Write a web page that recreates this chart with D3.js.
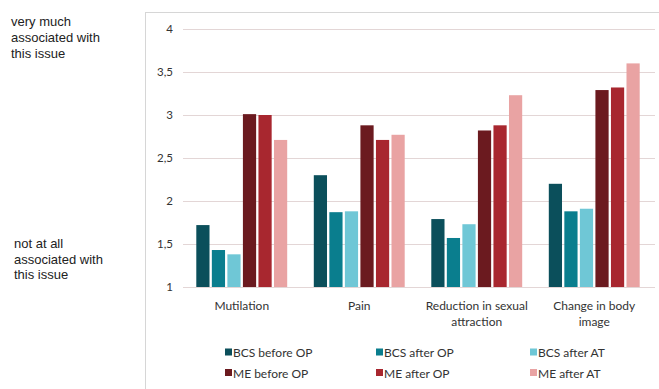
<!DOCTYPE html>
<html><head><meta charset="utf-8">
<script src="https://cdn.jsdelivr.net/npm/d3@7"></script>
<style>body{margin:0;background:#fff}svg{display:block}</style>
</head><body>
<script>
const categories = [["Mutilation"], ["Pain"], ["Reduction in sexual", "attraction"], ["Change in body", "image"]];
const seriesNames = ["BCS before OP", "BCS after OP", "BCS after AT", "ME before OP", "ME after OP", "ME after AT"];
const bcsBeforeOP = [1.72, 2.30, 1.79, 2.20];
const bcsAfterOP  = [1.43, 1.87, 1.57, 1.88];
const bcsAfterAT  = [1.38, 1.88, 1.73, 1.91];
const meBeforeOP  = [3.01, 2.88, 2.82, 3.29];
const meAfterOP   = [3.00, 2.71, 2.88, 3.32];
const meAfterAT   = [2.71, 2.77, 3.23, 3.60];
const yTicks = [1, 1.5, 2, 2.5, 3, 3.5, 4];
const colors = ["#0b4f5b", "#0a7e8e", "#6fc7d6", "#6b1a1f", "#a8272f", "#e9a3a3"];
const seriesValues = [bcsBeforeOP, bcsAfterOP, bcsAfterAT, meBeforeOP, meAfterOP, meAfterAT];

const W = 659, H = 389;
const svg = d3.select("body").append("svg").attr("width", W).attr("height", H);

// frame
svg.append("rect").attr("x", 145.5).attr("y", 12.5).attr("width", 530).attr("height", 400)
  .attr("fill", "none").attr("stroke", "#d6d6d6");

// left annotations
const ann = svg.append("g").attr("font-family", "Liberation Sans, Arial, sans-serif").attr("font-size", 13).attr("fill", "#222");
["very much", "associated with", "this issue"].forEach((t, i) =>
  ann.append("text").attr("x", 11).attr("y", 26 + i * 15.8).text(t));
["not at all", "associated with", "this issue"].forEach((t, i) =>
  ann.append("text").attr("x", 14).attr("y", 248 + i * 15.5).text(t));

const y = d3.scaleLinear().domain([1, 4]).range([287, 29]);
const x0 = d3.scaleBand().domain(d3.range(categories.length)).range([183, 653]).padding(0);
const x1 = d3.scaleBand().domain(d3.range(seriesNames.length)).range([13.3, x0.bandwidth() - 13.3]).paddingInner(0.15).paddingOuter(0);

const font = "Lato, 'Open Sans', sans-serif";

// grid
const yAxis = d3.axisLeft(y).tickValues(yTicks).tickSize(-(655 - 183)).tickPadding(10)
  .tickFormat(d => String(d).replace(".", ","));
const gy = svg.append("g").attr("transform", "translate(183,0)").call(yAxis);
gy.select(".domain").remove();
gy.selectAll(".tick line").attr("stroke", "#e3d6d6").attr("stroke-width", 1);
gy.selectAll(".tick text").attr("font-family", font).attr("font-size", 11.5).attr("fill", "#333");

// bars
const groups = svg.append("g").selectAll("g").data(categories).join("g")
  .attr("transform", (d, i) => `translate(${x0(i)},0)`);
groups.selectAll("rect").data((d, i) => seriesValues.map((s, k) => ({k, v: s[i]}))).join("rect")
  .attr("x", d => x1(d.k)).attr("width", x1.bandwidth())
  .attr("y", d => y(d.v)).attr("height", d => y(1) - y(d.v))
  .attr("fill", d => colors[d.k]);

// x labels
const xl = svg.append("g").attr("font-family", font).attr("font-size", 12).attr("fill", "#333").attr("text-anchor", "middle");
categories.forEach((lines, i) => {
  lines.forEach((t, j) => xl.append("text").attr("x", x0(i) + x0.bandwidth() / 2).attr("y", 309.5 + j * 16).text(t));
});

// legend
const legX = [225, 376, 530], legY = [352.5, 373];
const lg = svg.append("g").attr("font-family", font).attr("font-size", 12).attr("fill", "#333");
seriesNames.forEach((n, k) => {
  const cx = legX[k % 3], cy = legY[Math.floor(k / 3)];
  lg.append("rect").attr("x", cx).attr("y", cy - 4).attr("width", 7).attr("height", 7).attr("fill", colors[k]);
  lg.append("text").attr("x", cx + 8).attr("y", cy + 4.5).text(n);
});
</script>
</body></html>
